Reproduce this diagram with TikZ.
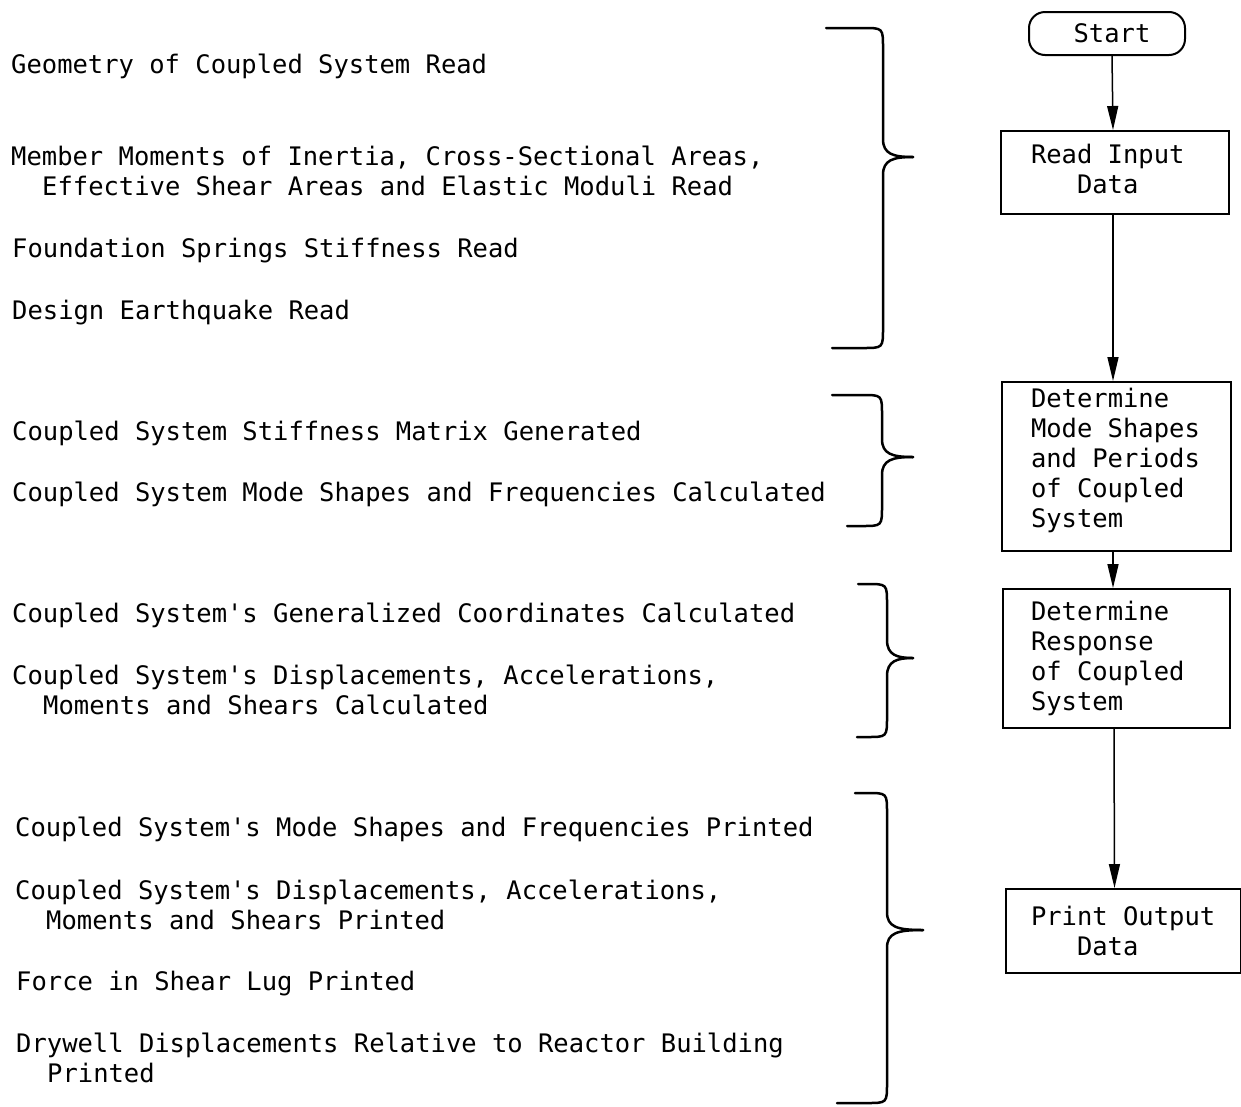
\documentclass[tikz,border=0pt]{standalone}
\usepackage{fontspec}
\newfontfamily\plotfont{DejaVu Sans Mono}
\usetikzlibrary{arrows.meta}
\newcommand\plotsize{\plotfont\fontsize{25.5}{30}\selectfont}
\newcommand\ind{\hspace*{31pt}}
\newcommand\fixspace{\spaceskip=15.35pt\relax\xspaceskip=15.35pt\relax}
\tikzset{
  txt/.style={anchor=base west, inner sep=0pt, align=left, font=\plotsize},
  box/.style={draw, line width=2pt, anchor=north west, align=left, inner ysep=0pt, font=\plotsize,
    execute at begin node=\fixspace},
  startbox/.style={draw, line width=2pt, rounded corners=16pt, minimum width=156pt, minimum height=43pt, inner sep=0pt, font=\plotsize},
  arr/.style={line width=1.5pt, -{Triangle[length=24pt,width=11pt]}},
  bracestyle/.style={line width=2.5pt, line cap=round},
}
% #1 top-arm left x, #2 top y, #3 spine x, #4 tip x, #5 tip y, #6 bottom y, #7 bottom-arm left x
\newcommand\drawbrace[7]{%
  \draw[bracestyle] (#1,#2) -- ({#3-20},#2) .. controls (#3,#2) .. (#3,{#2+20})
     -- (#3,{#5-18}) .. controls (#3,{#5-3}) and ({#3+10},#5) .. (#4,#5);
  \draw[bracestyle] (#4,#5) .. controls ({#3+10},#5) and (#3,{#5+3}) .. (#3,{#5+18})
     -- (#3,{#6-20}) .. controls (#3,#6) .. ({#3-20},#6) -- (#7,#6);
}
\begin{document}
\begin{tikzpicture}[x=1pt,y=-1pt]
\useasboundingbox (0,0) rectangle (1241,1106);

% left-hand texts (multi-line nodes are placed at the baseline of their last line)
\node[txt] (g1a) at (11,73) {Geometry of Coupled System Read};
\node[txt] (g1b) at (11,195) {Member Moments of Inertia, Cross-Sectional Areas,\\\ind Effective Shear Areas and Elastic Moduli Read};
\node[txt] (g1c) at (12,257) {Foundation Springs Stiffness Read};
\node[txt] (g1d) at (12,319) {Design Earthquake Read};

\node[txt] (g2a) at (12,440) {Coupled System Stiffness Matrix Generated};
\node[txt] (g2b) at (12,501) {Coupled System Mode Shapes and Frequencies Calculated};

\node[txt] (g3a) at (12,622) {Coupled System's Generalized Coordinates Calculated};
\node[txt] (g3b) at (12,714) {Coupled System's Displacements, Accelerations,\\\ind Moments and Shears Calculated};

\node[txt] (g4a) at (15,836) {Coupled System's Mode Shapes and Frequencies Printed};
\node[txt] (g4b) at (15,929) {Coupled System's Displacements, Accelerations,\\\ind Moments and Shears Printed};
\node[txt] (g4c) at (16,990) {Force in Shear Lug Printed};
\node[txt] (g4d) at (16,1082) {Drywell Displacements Relative to Reactor Building\\\ind Printed};

% braces
\drawbrace{826}{28}{883}{913}{157}{348}{832}
\drawbrace{832}{395}{882}{913}{457}{526}{847}
\drawbrace{858}{584}{887}{913}{658}{737}{857}
\drawbrace{855}{793}{887}{923}{930}{1103}{837}

% flowchart
\node[startbox] (start) at (1107,33.5) {\hspace*{10pt}Start};
\node[box, text width=168pt, inner xsep=30pt, minimum height=83pt] (read) at (1000,130)
  {Read Input\\\hspace*{46pt}Data\rule[-8pt]{0pt}{8pt}};
\node[box, text width=171pt, inner xsep=29pt, minimum height=169pt] (mode) at (1001,381)
  {Determine\\Mode Shapes\\and Periods\\of Coupled\\System\rule[-18pt]{0pt}{18pt}};
\node[box, text width=171pt, inner xsep=28pt, minimum height=139pt] (resp) at (1002,588)
  {Determine\\Response\\of Coupled\\System};
\node[box, text width=185pt, inner xsep=25pt, minimum height=84pt] (print) at (1005,888)
  {Print Output\\\hspace*{46pt}Data};

\draw[arr] ([xshift=5pt]start.south) -- ([xshift=-2pt]read.north);
\draw[arr] ([xshift=-2pt]read.south) -- ([xshift=-3.5pt]mode.north);
\draw[arr] ([xshift=-3.5pt]mode.south) -- ([xshift=-3.5pt]resp.north);
\draw[arr] ([xshift=-2.5pt]resp.south) -- ([xshift=-9pt]print.north);
\end{tikzpicture}
\end{document}
